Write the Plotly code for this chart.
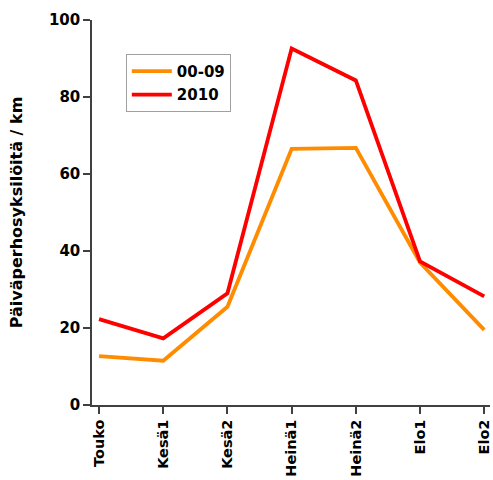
import plotly.graph_objects as go

categories = ["Touko", "Kesä1", "Kesä2", "Heinä1", "Heinä2", "Elo1", "Elo2"]
s_0009 = [12.7, 11.5, 25.5, 66.5, 66.8, 37.0, 19.5]
s_2010 = [22.3, 17.3, 29.0, 92.6, 84.3, 37.3, 28.2]

xs = list(range(len(categories)))
fig = go.Figure()
fig.add_trace(go.Scatter(x=xs, y=s_0009, mode="lines", name="00-09", legendgroup="a",
                         line=dict(color="#FF8C00", width=3.8)))
fig.add_trace(go.Scatter(x=xs, y=s_2010, mode="lines", name="2010", legendgroup="b",
                         line=dict(color="#FF0000", width=3.8)))

font = "DejaVu Sans, Verdana, sans-serif"
fig.update_layout(
    width=493, height=480,
    margin=dict(l=92, r=3, t=20, b=75, autoexpand=False),
    paper_bgcolor="white", plot_bgcolor="white",
    font=dict(family=font, color="black"),
    showlegend=True,
    legend=dict(x=0.085, y=0.912, xanchor="left", yanchor="top",
                bordercolor="#A0A0A0", borderwidth=1, bgcolor="white",
                font=dict(size=15, family=font, weight="bold"),
                traceorder="grouped", tracegroupgap=1, itemwidth=40),
    xaxis=dict(
        tickmode="array", tickvals=xs, ticktext=categories,
        range=[-0.11, 6.09], tickangle=-90, ticklabeloverflow="allow",
        automargin=False,
        showline=True, linecolor="#404040", linewidth=1.5,
        ticks="outside", ticklen=7, tickcolor="#404040", tickwidth=1.5,
        showgrid=False, zeroline=False,
        tickfont=dict(size=14.5, family=font, weight="bold"),
    ),
    yaxis=dict(
        range=[0, 100], tickvals=[0, 20, 40, 60, 80, 100],
        automargin=False,
        showline=True, linecolor="#404040", linewidth=1.5,
        ticks="outside", ticklen=7, tickcolor="#404040", tickwidth=1.5,
        showgrid=False, zeroline=False,
        tickfont=dict(size=15, family=font, weight="bold"),
        title=dict(text="Päiväperhosyksilöitä / km", standoff=22,
                   font=dict(size=16, family=font, weight="bold")),
    ),
)
fig.write_html("out.html")
